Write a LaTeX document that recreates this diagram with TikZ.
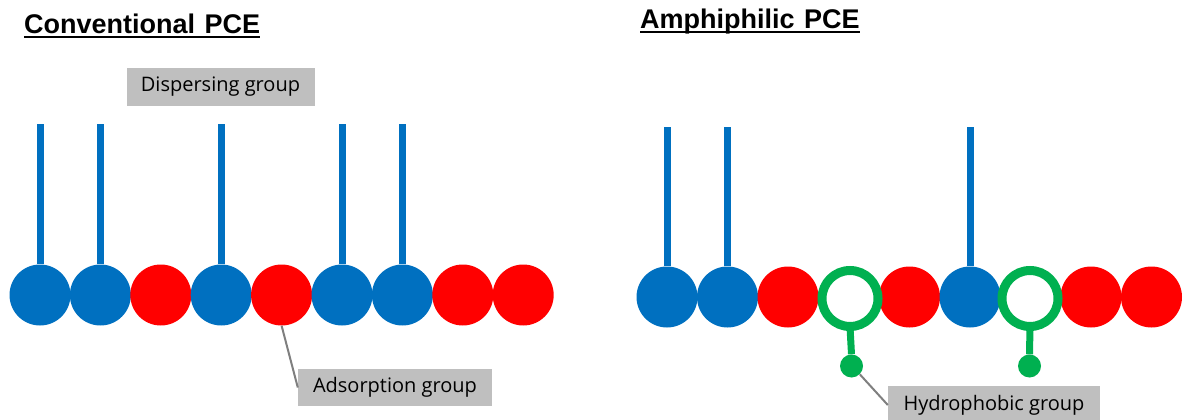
\documentclass[tikz,border=0pt]{standalone}
\usepackage{fontspec}
\setmainfont{Open Sans}
\newfontfamily\titlefont{Liberation Sans}
\definecolor{pblue}{HTML}{0070C0}
\definecolor{pred}{HTML}{FF0000}
\definecolor{pgreen}{HTML}{00B050}
\definecolor{pgray}{HTML}{BFBFBF}
\definecolor{lgray}{HTML}{7F7F7F}
\tikzset{
  bead/.style={circle, minimum size=61pt, inner sep=0pt, draw=none},
  bluebead/.style={bead, fill=pblue},
  redbead/.style={bead, fill=pred},
  ringbead/.style={circle, minimum size=56pt, inner sep=0pt, draw=pgreen, line width=9pt, fill=white},
  hdot/.style={circle, minimum size=23pt, inner sep=0pt, fill=pgreen},
  stem/.style={pblue, line width=7pt},
  gstem/.style={pgreen, line width=7pt},
  label/.style={fill=pgray, text=black, inner sep=0pt, font=\fontsize{20}{23}\selectfont},
  callout/.style={lgray, line width=2pt},
  ttl/.style={inner sep=0pt, anchor=base west, font=\titlefont\bfseries\fontsize{27}{30}\selectfont},
  uline/.style={black, line width=2pt}
}
\begin{document}
\begin{tikzpicture}[x=1pt,y=-1pt]
\useasboundingbox (0,0) rectangle (1184,420);
% titles
\node[ttl] (t1) at (24,34) {Conventional\hspace{0.35em}PCE};
\draw[uline] ([yshift=-3.5pt]t1.base west) -- ([yshift=-3.5pt]t1.base east);
\node[ttl] (t2) at (640,29) {Amphiphilic\hspace{0.35em}PCE};
\draw[uline] ([yshift=-3.5pt]t2.base west) -- ([yshift=-3.5pt]t2.base east);

% left chain
\node[bluebead] (a1) at (40,295) {};
\node[bluebead] (a2) at (100.4,295) {};
\node[redbead]  (a3) at (160.8,295) {};
\node[bluebead] (a4) at (221.2,295) {};
\node[redbead]  (a5) at (281.6,295) {};
\node[bluebead] (a6) at (342,295) {};
\node[bluebead] (a7) at (402.4,295) {};
\node[redbead]  (a8) at (462.8,295) {};
\node[redbead]  (a9) at (523.2,295) {};
\foreach \n in {1,2,4,6,7}{
  \coordinate (sa\n) at (a\n |- 0,124);
  \draw[stem] (sa\n) -- (a\n.north);
}

% right chain
\node[bluebead] (b1) at (667,297) {};
\node[bluebead] (b2) at (727.5,297) {};
\node[redbead]  (b3) at (788,297) {};
\node[redbead]  (b5) at (909.5,297) {};
\node[bluebead] (b6) at (970,297) {};
\node[redbead]  (b8) at (1091,297) {};
\node[redbead]  (b9) at (1151.5,297) {};
\node[ringbead] (b4) at (850,298.5) {};
\node[ringbead] (b7) at (1030,298.5) {};
\foreach \n in {1,2,6}{
  \coordinate (sb\n) at (b\n |- 0,127);
  \draw[stem] (sb\n) -- (b\n.north);
}
\node[hdot] (h1) at (851.5,366) {};
\node[hdot] (h2) at (1029.5,366) {};
\draw[gstem] ([yshift=4pt]b4.south) -- (h1.north);
\draw[gstem] ([yshift=4pt]b7.south) -- (h2.north);

% labels
\node[label, minimum width=188pt, minimum height=38pt] (disp) at (220.5,87) {Dispersing group};
\node[label, minimum width=194pt, minimum height=37pt] (ads) at (395,387.5) {Adsorption group};
\node[label, minimum width=212pt, minimum height=38pt] (hyd) at (994,405) {Hydrophobic group};
\draw[callout] (a5.south) -- (ads.west);
\draw[callout] (h1.south east) -- (hyd.west);
\end{tikzpicture}
\end{document}
